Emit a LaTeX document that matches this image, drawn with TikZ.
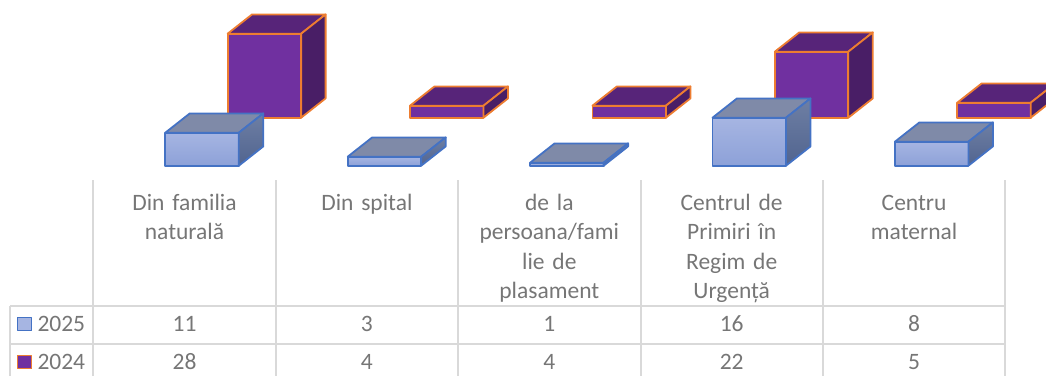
\documentclass[tikz,border=0pt]{standalone}
\usepackage{fontspec}
\setmainfont{Carlito}
\usetikzlibrary{calc}

\definecolor{gridgray}{HTML}{D9D9D9}
\definecolor{txtgray}{HTML}{767676}
\definecolor{blueline}{HTML}{4472C4}
\definecolor{bluefront}{HTML}{A6B5E2}
\definecolor{bluefrontb}{HTML}{8DA1D8}
\definecolor{bluetop}{HTML}{7F8AA8}
\definecolor{blueside}{HTML}{6E7FA4}
\definecolor{bluesideb}{HTML}{51648F}
\definecolor{orangeline}{HTML}{ED7D31}
\definecolor{purplefront}{HTML}{7030A0}
\definecolor{purpletop}{HTML}{572479}
\definecolor{purpleside}{HTML}{491E66}

\tikzset{
  gridline/.style={draw=gridgray, line width=2pt},
  tabfont/.style={text=txtgray, font=\fontsize{23.5}{29.5}\selectfont, inner sep=0pt},
  cattext/.style={tabfont, align=center, text width=172pt, anchor=north, execute at begin node={\strut}},
  numtext/.style={tabfont, anchor=base},
  face25/.style={draw=blueline, line width=1.8pt, line join=round},
  face24/.style={draw=orangeline, line width=1.8pt, line join=round},
}

\begin{document}
\begin{tikzpicture}[x=1pt, y=-1pt]
\useasboundingbox (0,0) rectangle (1046,376);
\clip (0,0) rectangle (1046,376);

% bars 2024 (back row)
\foreach \i/\v in {0/28, 1/4, 2/4, 3/22, 4/5} {
  \pgfmathsetmacro{\xl}{93.3+182.4*\i+134.3}
  \pgfmathsetmacro{\xr}{\xl+73.5}
  \pgfmathsetmacro{\yt}{117.7-3*\v}
  \coordinate (P1) at (\xl,117.7); \coordinate (P2) at (\xr,117.7);
  \coordinate (P3) at (\xr,\yt); \coordinate (P4) at (\xl,\yt);
  \draw[face24, fill=purplefront] (P1) -- (P2) -- (P3) -- (P4) -- cycle;
  \draw[face24, fill=purpletop] (P4) -- ($(P4)+(24.5,-19.3)$) -- ($(P3)+(24.5,-19.3)$) -- (P3) -- cycle;
  \draw[face24, fill=purpleside] (P2) -- ($(P2)+(24.5,-19.3)$) -- ($(P3)+(24.5,-19.3)$) -- (P3) -- cycle;
}

% bars 2025 (front row)
\foreach \i/\v in {0/11, 1/3, 2/1, 3/16, 4/8} {
  \pgfmathsetmacro{\xl}{93.3+182.4*\i+72}
  \pgfmathsetmacro{\xr}{\xl+73.5}
  \pgfmathsetmacro{\yt}{165.7-3*\v}
  \coordinate (Q1) at (\xl,165.7); \coordinate (Q2) at (\xr,165.7);
  \coordinate (Q3) at (\xr,\yt); \coordinate (Q4) at (\xl,\yt);
  \draw[face25, top color=bluefront, bottom color=bluefrontb] (Q1) -- (Q2) -- (Q3) -- (Q4) -- cycle;
  \draw[face25, fill=bluetop] (Q4) -- ($(Q4)+(24.5,-19.3)$) -- ($(Q3)+(24.5,-19.3)$) -- (Q3) -- cycle;
  \draw[face25, top color=blueside, bottom color=bluesideb] (Q2) -- ($(Q2)+(24.5,-19.3)$) -- ($(Q3)+(24.5,-19.3)$) -- (Q3) -- cycle;
}

% data table
\coordinate (TL) at (10,305.5); \coordinate (TM) at (10,344); \coordinate (TB) at (10,376);
\draw[gridline] (TL) -- (TB);
\draw[gridline] (TL) -- (1005.3,305.5);
\draw[gridline] (TM) -- (1005.3,344);
\foreach \k in {0,...,5} {
  \coordinate (G\k) at (93.3+182.4*\k,180);
  \draw[gridline] (G\k) -- ++(0,196);
}

\foreach \i/\lab/\va/\vb in {0/{Din familia\\naturală}/11/28, 1/{Din spital}/3/4,
    2/{de la\\persoana/fami\\lie de\\plasament}/1/4,
    3/{Centrul de\\Primiri în\\Regim de\\Urgență}/16/22, 4/{Centru\\maternal}/8/5} {
  \node (cat\i) at (184.5+182.4*\i,189.4) [cattext] {\lab};
  \node (n25-\i) at (184.5+182.4*\i,331) [numtext] {\va};
  \node (n24-\i) at (184.5+182.4*\i,369) [numtext] {\vb};
}

% legend keys
\draw[face25, fill=bluefront] (17.5,317.5) rectangle (31.5,330.5);
\node (y2025) at (37.3,331) [numtext, anchor=base west] {2025};
\draw[face24, fill=purplefront] (17.5,355.5) rectangle (31.5,368.5);
\node (y2024) at (37.3,369) [numtext, anchor=base west] {2024};

\end{tikzpicture}
\end{document}
